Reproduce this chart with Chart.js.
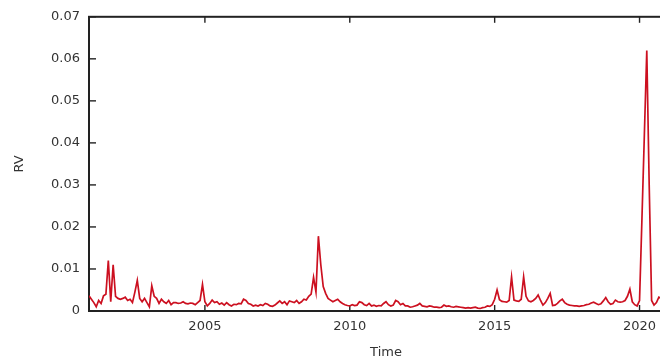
<!DOCTYPE html>
<html>
<head>
<meta charset="utf-8">
<script src="https://cdn.jsdelivr.net/npm/chart.js@4.4.1/dist/chart.umd.min.js"></script>
<style>
  html, body { margin: 0; padding: 0; background: #fff; overflow: hidden; }
  #wrap { width: 700px; height: 362px; }
</style>
</head>
<body>
<div id="wrap"><canvas id="c" width="700" height="362"></canvas></div>
<script>
// Monthly realized volatility, first value = January of startYear
const startYear = 2001;
const rvMonthly = [
  /* 2001 */ 0.0036,0.0028,0.0020,0.0010,0.0025,0.0018,0.0036,0.0040,0.0120,0.0022,0.0110,0.0035,
  /* 2002 */ 0.0030,0.0028,0.0030,0.0033,0.0025,0.0028,0.0020,0.0045,0.0073,0.0030,0.0022,0.0030,
  /* 2003 */ 0.0020,0.0010,0.0060,0.0035,0.0030,0.0018,0.0028,0.0022,0.0018,0.0025,0.0015,0.0020,
  /* 2004 */ 0.0020,0.0018,0.0019,0.0022,0.0018,0.0017,0.0019,0.0018,0.0015,0.0020,0.0025,0.0063,
  /* 2005 */ 0.0022,0.0012,0.0018,0.0026,0.0020,0.0022,0.0016,0.0019,0.0014,0.0020,0.0015,0.0012,
  /* 2006 */ 0.0016,0.0015,0.0018,0.0017,0.0028,0.0025,0.0018,0.0016,0.0012,0.0014,0.0012,0.0015,
  /* 2007 */ 0.0013,0.0018,0.0016,0.0012,0.0011,0.0014,0.0019,0.0024,0.0018,0.0022,0.0015,0.0024,
  /* 2008 */ 0.0022,0.0020,0.0025,0.0018,0.0022,0.0028,0.0026,0.0035,0.0040,0.0080,0.0045,0.0178,
  /* 2009 */ 0.0110,0.0058,0.0042,0.0030,0.0026,0.0022,0.0025,0.0028,0.0022,0.0018,0.0015,0.0013,
  /* 2010 */ 0.0012,0.0015,0.0013,0.0014,0.0022,0.0020,0.0015,0.0013,0.0018,0.0012,0.0014,0.0011,
  /* 2011 */ 0.0013,0.0012,0.0018,0.0022,0.0015,0.0012,0.0014,0.0025,0.0022,0.0015,0.0018,0.0012,
  /* 2012 */ 0.0012,0.0009,0.0010,0.0012,0.0014,0.0018,0.0012,0.0011,0.0010,0.0012,0.0011,0.0009,
  /* 2013 */ 0.0009,0.0008,0.0009,0.0014,0.0011,0.0012,0.0010,0.0009,0.0011,0.0010,0.0009,0.0008,
  /* 2014 */ 0.0007,0.0008,0.0007,0.0008,0.0009,0.0007,0.0006,0.0008,0.0009,0.0012,0.0011,0.0015,
  /* 2015 */ 0.0028,0.0050,0.0027,0.0023,0.0022,0.0021,0.0025,0.0081,0.0026,0.0024,0.0023,0.0028,
  /* 2016 */ 0.0081,0.0035,0.0024,0.0022,0.0025,0.0030,0.0038,0.0025,0.0014,0.0020,0.0030,0.0042,
  /* 2017 */ 0.0013,0.0014,0.0018,0.0024,0.0028,0.0020,0.0016,0.0014,0.0013,0.0012,0.0012,0.0011,
  /* 2018 */ 0.0012,0.0013,0.0015,0.0016,0.0019,0.0021,0.0018,0.0015,0.0017,0.0024,0.0032,0.0022,
  /* 2019 */ 0.0016,0.0018,0.0026,0.0022,0.0021,0.0022,0.0025,0.0035,0.0052,0.0022,0.0015,0.0012,
  /* 2020 */ 0.0025,0.0220,0.0420,0.0620,0.0300,0.0025,0.0014,0.0020,0.0033,0.0030,0.0025,0.0030,
  /* 2021 */ 0.0028,0.0025,0.0030
];
const xTickYears = [2005, 2010, 2015, 2020];
const yTickValues = [0, 0.01, 0.02, 0.03, 0.04, 0.05, 0.06, 0.07];
const xTitle = 'Time';
const yTitle = 'RV';

const points = rvMonthly.map((v, i) => ({ x: startYear + i / 12, y: v }));

const frame = {
  id: 'frame',
  beforeDatasetsDraw(chart) {
    const { ctx, chartArea: a, scales: { x, y } } = chart;
    ctx.save();
    ctx.strokeStyle = '#222';
    ctx.lineWidth = 2;
    ctx.strokeRect(a.left, a.top, a.right - a.left, a.bottom - a.top);
    ctx.lineWidth = 1.4;
    const seg = (x1, y1, x2, y2) => { ctx.beginPath(); ctx.moveTo(x1, y1); ctx.lineTo(x2, y2); ctx.stroke(); };
    y.ticks.forEach(t => {
      const py = y.getPixelForValue(t.value);
      seg(a.left, py, a.left + 7, py);
      seg(a.right, py, a.right - 7, py);
    });
    x.ticks.forEach(t => {
      const px = x.getPixelForValue(t.value);
      seg(px, a.bottom, px, a.bottom - 6);
      seg(px, a.top, px, a.top + 6);
    });
    ctx.restore();
  }
};

const font = { family: 'DejaVu Sans', size: 13 };

new Chart(document.getElementById('c'), {
  type: 'line',
  data: {
    datasets: [{
      data: points,
      borderColor: '#cc1020',
      borderWidth: 1.7,
      pointRadius: 0,
      tension: 0,
      fill: false
    }]
  },
  options: {
    responsive: false,
    animation: false,
    devicePixelRatio: 1,
    layout: { padding: { top: 14, right: 17, bottom: 0, left: 0 } },
    plugins: { legend: { display: false }, tooltip: { enabled: false } },
    scales: {
      x: {
        type: 'linear',
        min: 2001,
        max: 2021.5,
        afterBuildTicks: s => { s.ticks = xTickYears.map(v => ({ value: v })); },
        afterFit: s => { s.height = 51; },
        grid: { display: false, drawTicks: false },
        border: { display: false },
        ticks: { font, color: '#333', padding: 8, maxRotation: 0, callback: v => String(v) },
        title: { display: true, text: xTitle, font, color: '#333', padding: { top: 0, bottom: 2 } }
      },
      y: {
        min: 0,
        max: 0.07,
        afterBuildTicks: s => { s.ticks = yTickValues.map(v => ({ value: v })); },
        afterFit: s => { s.width = 89; },
        grid: { display: false, drawTicks: false },
        border: { display: false },
        ticks: { font, color: '#333', padding: 9, callback: v => (v === 0 ? '0' : v.toFixed(2)) },
        title: { display: true, text: yTitle, font, color: '#333', padding: { top: 12, bottom: 0 } }
      }
    }
  },
  plugins: [frame]
});
</script>
</body>
</html>
